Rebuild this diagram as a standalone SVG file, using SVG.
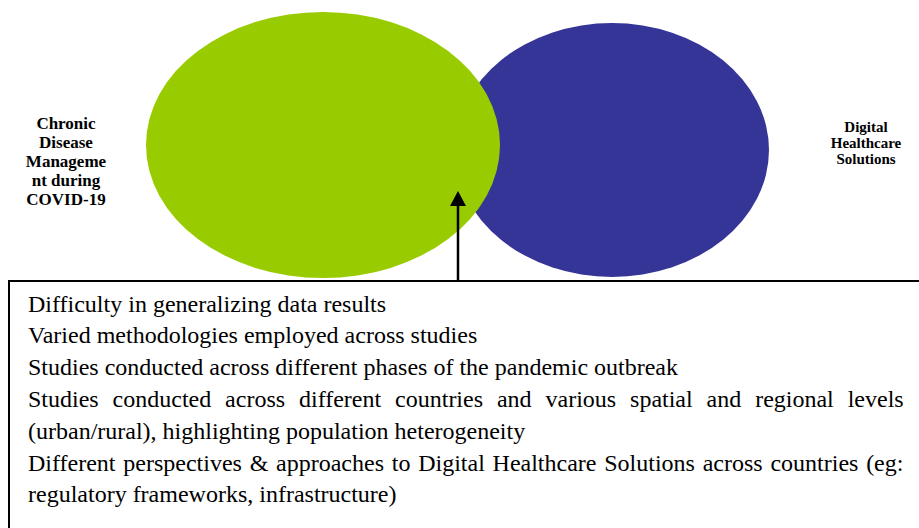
<svg xmlns="http://www.w3.org/2000/svg" width="919" height="528" viewBox="0 0 919 528">
<style>
.lbl{font-family:"Liberation Serif","Times New Roman",serif;font-weight:bold;fill:#000;text-anchor:middle}
.body{font-family:"Liberation Serif","Times New Roman",serif;font-size:24px;fill:#000}
</style>
<defs>
<marker id="ah" markerWidth="15" markerHeight="16" refX="0" refY="8" orient="auto" markerUnits="userSpaceOnUse" viewBox="0 0 15 16">
<path d="M0,0 L15,8 L0,16 z" fill="#000"/>
</marker>
</defs>
<rect width="919" height="528" fill="#fff"/>
<g id="digital-healthcare">
<ellipse cx="612" cy="150" rx="157" ry="127" fill="#353598"/>
<text class="lbl" font-size="15" x="866" y="132">Digital</text>
<text class="lbl" font-size="15" x="866" y="148">Healthcare</text>
<text class="lbl" font-size="15" x="866" y="164">Solutions</text>
</g>
<g id="chronic-disease">
<ellipse cx="323" cy="145" rx="177" ry="133" fill="#99cc00"/>
<text class="lbl" font-size="17" x="66" y="129">Chronic</text>
<text class="lbl" font-size="17" x="66" y="148">Disease</text>
<text class="lbl" font-size="17" x="66" y="167">Manageme</text>
<text class="lbl" font-size="17" x="66" y="186">nt during</text>
<text class="lbl" font-size="17" x="66" y="205">COVID-19</text>
</g>
<g id="limitations">
<path d="M920,281 L9,281 L9,530" fill="none" stroke="#000" stroke-width="2"/>
<text class="body" x="28" y="312">Difficulty in generalizing data results</text>
<text class="body" x="28" y="343">Varied methodologies employed across studies</text>
<text class="body" x="28" y="375">Studies conducted across different phases of the pandemic outbreak</text>
<text class="body" x="28" y="407" word-spacing="7.9">Studies conducted across different countries and various spatial and regional levels</text>
<text class="body" x="28" y="439">(urban/rural), highlighting population heterogeneity</text>
<text class="body" x="28" y="471" word-spacing="1.75">Different perspectives &amp; approaches to Digital Healthcare Solutions across countries (eg:</text>
<text class="body" x="28" y="502">regulatory frameworks, infrastructure)</text>
</g>
<g id="connectors">
<line x1="458" y1="281" x2="458" y2="206" stroke="#000" stroke-width="2.5" marker-end="url(#ah)"/>
</g>
</svg>
